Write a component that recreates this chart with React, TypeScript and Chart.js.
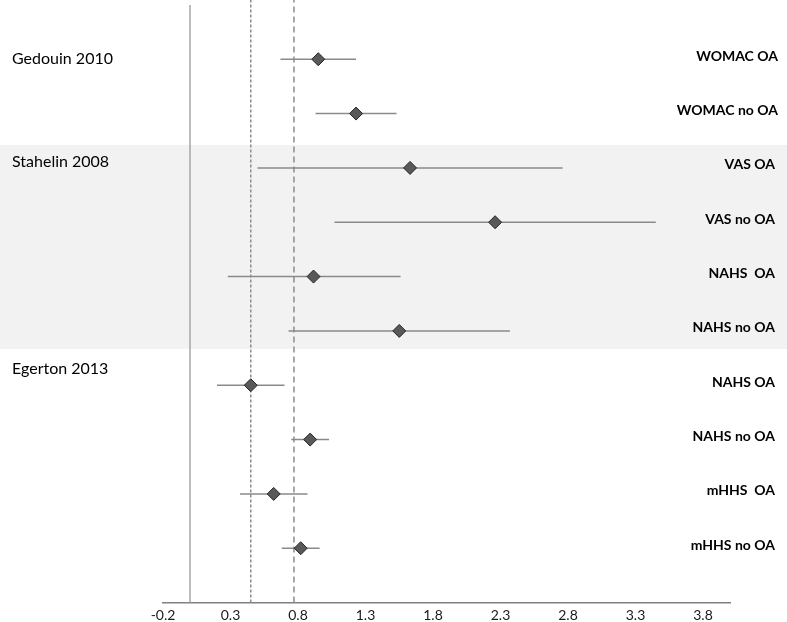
import React, { useEffect, useRef } from "react";
import { Chart, registerables } from "chart.js";

Chart.register(...registerables);

// ---- data ----
const outcomes = [
  "WOMAC OA",
  "WOMAC no OA",
  "VAS OA",
  "VAS no OA",
  "NAHS  OA",
  "NAHS no OA",
  "NAHS OA",
  "NAHS no OA",
  "mHHS  OA",
  "mHHS no OA",
];
const estimates = [0.95, 1.23, 1.63, 2.26, 0.915, 1.55, 0.45, 0.89, 0.62, 0.82];
const lowerCI = [0.67, 0.93, 0.5, 1.07, 0.28, 0.73, 0.2, 0.75, 0.37, 0.68];
const upperCI = [1.23, 1.53, 2.76, 3.45, 1.56, 2.37, 0.7, 1.03, 0.87, 0.96];
const rowPositions = [10, 9, 8, 7, 6, 5, 4, 3, 2, 1];
const studies = ["Gedouin 2010", "Stahelin 2008", "Egerton 2013"];
const studyFirstRow = [0, 2, 6];
const studyLastRow = [1, 5, 9];
const xTickValues = [-0.2, 0.3, 0.8, 1.3, 1.8, 2.3, 2.8, 3.3, 3.8];
const nullLine = 0;
const pooledLines = [0.45, 0.77];

const FONT_TEXT = "Lato, 'Open Sans', sans-serif";

export default function App() {
  const ref = useRef<HTMLCanvasElement | null>(null);

  useEffect(() => {
    const canvas = ref.current;
    if (!canvas) return;

    const ciDatasets = outcomes.map((_, i) => ({
      type: "scatter" as const,
      data: [
        { x: lowerCI[i], y: rowPositions[i] },
        { x: upperCI[i], y: rowPositions[i] },
      ],
      showLine: true,
      borderColor: "#8a8a8a",
      borderWidth: 1.5,
      pointRadius: 0,
      order: 2,
    }));

    const refLineDatasets = [
      {
        type: "scatter" as const,
        data: [
          { x: nullLine, y: 0 },
          { x: nullLine, y: 11 },
        ],
        showLine: true,
        borderColor: "#a6a6a6",
        borderWidth: 1.5,
        pointRadius: 0,
        clip: false,
        order: 3,
      },
      {
        type: "scatter" as const,
        data: [
          { x: pooledLines[0], y: 0 },
          { x: pooledLines[0], y: 11.2 },
        ],
        showLine: true,
        borderColor: "#8c8c8c",
        borderWidth: 1.5,
        borderDash: [3, 2],
        pointRadius: 0,
        clip: false,
        order: 3,
      },
      {
        type: "scatter" as const,
        data: [
          { x: pooledLines[1], y: 0 },
          { x: pooledLines[1], y: 11.2 },
        ],
        showLine: true,
        borderColor: "#8c8c8c",
        borderWidth: 1.5,
        borderDash: [6, 4],
        pointRadius: 0,
        clip: false,
        order: 3,
      },
    ];

    const pointDataset = {
      type: "scatter" as const,
      data: estimates.map((v, i) => ({ x: v, y: rowPositions[i] })),
      pointStyle: "rectRot",
      pointRadius: 6.5,
      backgroundColor: "#595959",
      borderColor: "#262626",
      borderWidth: 1,
      showLine: false,
      order: 0,
    };

    const decorPlugin = {
      id: "decor",
      beforeDatasetsDraw(chart: any) {
        const { ctx } = chart;
        const ys = chart.scales.y;
        const top = ys.getPixelForValue(rowPositions[studyFirstRow[1]]) - 23;
        const bottom = ys.getPixelForValue(rowPositions[studyLastRow[1]]) + 18;
        ctx.save();
        ctx.fillStyle = "#f2f2f2";
        ctx.fillRect(0, top, chart.width, bottom - top);
        ctx.restore();
      },
      afterDraw(chart: any) {
        const { ctx } = chart;
        const ys = chart.scales.y;
        ctx.save();
        ctx.fillStyle = "#000000";
        ctx.textBaseline = "middle";
        // study labels
        ctx.font = `16px ${FONT_TEXT}`;
        ctx.textAlign = "left";
        const studyOffsets = [0, -6, -16];
        studies.forEach((s, k) => {
          const y = ys.getPixelForValue(rowPositions[studyFirstRow[k]]) + studyOffsets[k];
          ctx.fillText(s, 12, y);
        });
        // outcome labels
        ctx.font = `bold 14px ${FONT_TEXT}`;
        ctx.textAlign = "right";
        outcomes.forEach((o, i) => {
          const y = ys.getPixelForValue(rowPositions[i]) - 3;
          ctx.fillText(o, i < 2 ? 778 : 775, y);
        });
        ctx.restore();
      },
    };

    const chart = new Chart(canvas, {
      type: "scatter",
      data: {
        datasets: [pointDataset, ...ciDatasets, ...refLineDatasets] as any,
      },
      options: {
        animation: false,
        responsive: false,
        maintainAspectRatio: false,
        layout: { autoPadding: false, padding: { left: 163, right: 57, top: 0, bottom: 0 } },
        plugins: {
          legend: { display: false },
          tooltip: { enabled: false },
        },
        scales: {
          x: {
            type: "linear",
            min: -0.2,
            max: 4.0,
            afterBuildTicks: (scale: any) => {
              scale.ticks = xTickValues.map((v) => ({ value: v }));
            },
            afterFit: (scale: any) => {
              scale.height = 19.4;
            },
            grid: { display: false, drawTicks: false },
            border: { display: true, color: "#808080", width: 1.5 },
            ticks: {
              padding: 4,
              color: "#1a1a1a",
              font: { family: FONT_TEXT, size: 14 },
              callback: (v: any) => Number(v).toFixed(1),
              autoSkip: false,
              maxRotation: 0,
            },
          },
          y: {
            type: "linear",
            min: 0,
            max: 11.09,
            display: false,
          },
        },
      },
      plugins: [decorPlugin],
    });

    return () => chart.destroy();
  }, []);

  return (
    <div style={{ position: "fixed", left: 0, top: 0, width: 787, height: 622, background: "#ffffff" }}>
      <canvas ref={ref} width={787} height={622} style={{ display: "block" }} />
    </div>
  );
}
